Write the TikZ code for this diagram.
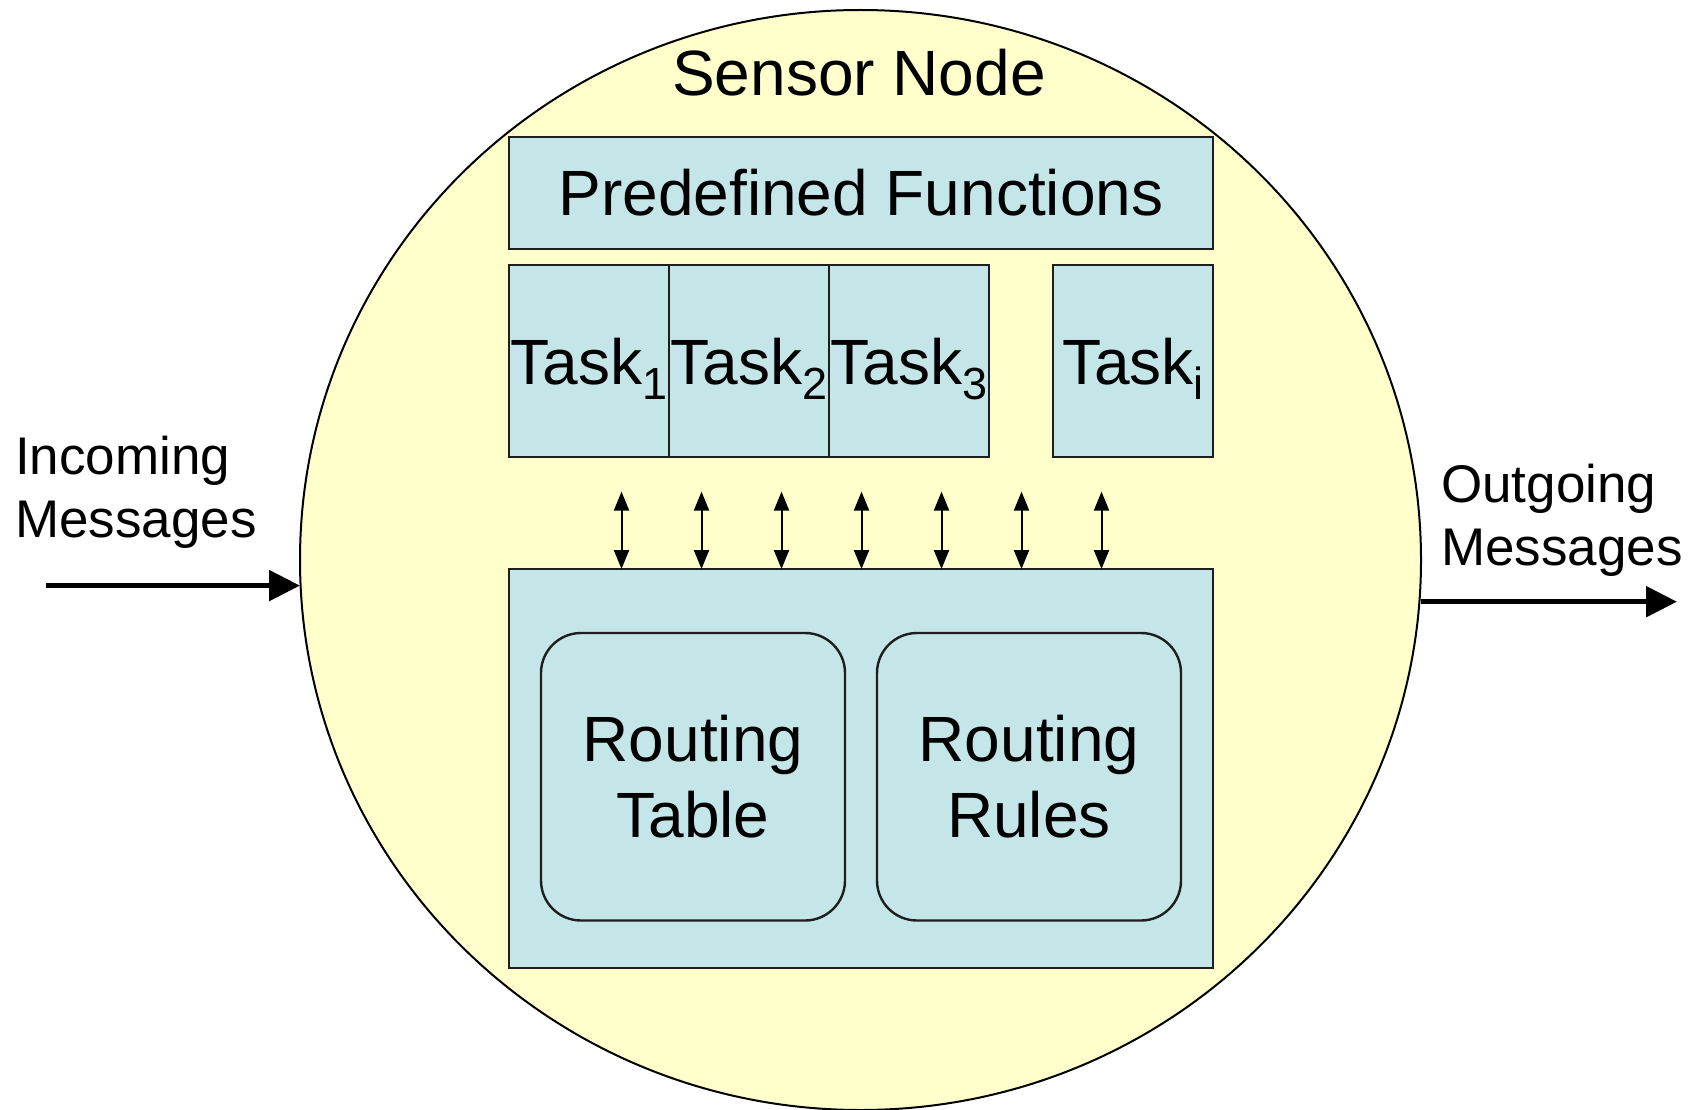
\documentclass[tikz,border=0pt]{standalone}
\usepackage{fontspec}
\setmainfont{Liberation Sans}
\usetikzlibrary{shapes.geometric,arrows.meta}

\definecolor{nodeyellow}{RGB}{255,255,204}
\definecolor{boxblue}{RGB}{197,230,233}
\definecolor{edgegray}{RGB}{30,30,30}

% task label with a lowered index
\newcommand\tasklbl[1]{Task\raisebox{-15pt}{\fontsize{45}{45}\selectfont #1}}

\tikzset{
  big/.style={font=\fontsize{64}{75.5}\selectfont},
  side/.style={font=\fontsize{53}{63}\selectfont, inner sep=0pt, align=left},
  panel/.style={draw=edgegray, fill=boxblue, line width=2pt, inner sep=0pt, outer sep=0pt},
  taskbox/.style={panel, minimum width=160pt, minimum height=192pt,
                  font=\fontsize{64}{75}\selectfont, text height=46pt, text depth=0pt},
  rulebox/.style={panel, rounded corners=40pt, line width=2.4pt,
                  minimum width=304pt, minimum height=287.5pt, big, align=center},
  dbl/.style={line width=2pt, arrows={Triangle[length=19pt,width=15pt]-Triangle[length=19pt,width=15pt]}},
  flow/.style={line width=5.5pt, arrows={-Triangle[length=31pt,width=30pt]}}
}

\begin{document}
\begin{tikzpicture}[x=1pt,y=-1pt]
\useasboundingbox (0,0) rectangle (1694,1110);

% the sensor node body
\node[ellipse, draw=black, fill=nodeyellow, line width=2pt, inner sep=0pt, outer sep=0pt,
      minimum width=1121pt, minimum height=1100pt] (sensor) at (860.5,560) {};
\node[big, anchor=base, inner sep=0pt] (title) at (859,96) {Sensor Node};

% predefined functions bar
\node[panel, minimum width=704pt, minimum height=111.5pt, big, text height=46pt, text depth=0pt]
  (funcs) at (861,192.75) {Predefined Functions};

% tasks
\node[taskbox] (task1) at (589,361) {\tasklbl{1}};
\node[taskbox] (task2) at (749,361) {\tasklbl{2}};
\node[taskbox] (task3) at (909,361) {\tasklbl{3}};
\node[taskbox] (taski) at (1133,361) {\tasklbl{i}};

% routing core
\node[panel, minimum width=704pt, minimum height=399pt] (core) at (861,768.5) {};
\node[rulebox] (rtable) at (693,776.75) {Routing\\Table};
\node[rulebox] (rrules) at (1029,776.75) {Routing\\Rules};

% links between tasks and routing core
\foreach \k/\x in {1/621.5,2/701.5,3/781.5,4/861.5,5/941.5,6/1021.5,7/1101.5}{
  \coordinate (up\k) at (\x,491.6);
  \draw[dbl] (up\k) -- (up\k |- core.north);
}

% message flow
\node[side, anchor=west] (inlabel) at (15,492.5) {Incoming\\Messages};
\coordinate (insrc) at (46,585.6);
\draw[flow] (insrc) -- (insrc -| sensor.west);

\node[side, anchor=west] (outlabel) at (1441,520) {Outgoing\\Messages};
\coordinate (outdst) at (1677,601.7);
\draw[flow] (outdst -| sensor.east) -- (outdst);

\end{tikzpicture}
\end{document}
